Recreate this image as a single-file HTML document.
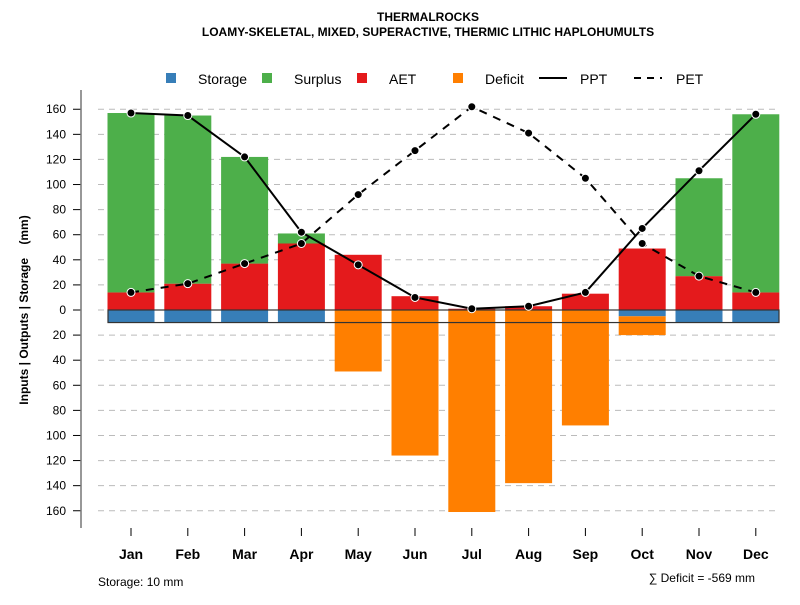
<!DOCTYPE html>
<html><head><meta charset="utf-8"><style>
body{margin:0;background:#fff;font-family:"Liberation Sans",sans-serif}
svg text{font-family:"Liberation Sans",sans-serif}
</style></head><body>
<svg id="c" width="800" height="600" xmlns="http://www.w3.org/2000/svg">
<text x="428" y="21" text-anchor="middle" font-size="12" font-weight="bold">THERMALROCKS</text>
<text x="428" y="36" text-anchor="middle" font-size="12" font-weight="bold">LOAMY-SKELETAL, MIXED, SUPERACTIVE, THERMIC LITHIC HAPLOHUMULTS</text>
<g font-size="14">
<rect x="166" y="73" width="10" height="10" fill="#377eb8"/><text x="198" y="84">Storage</text>
<rect x="262" y="73" width="10" height="10" fill="#4daf4a"/><text x="294" y="84">Surplus</text>
<rect x="357" y="73" width="10" height="10" fill="#e41a1c"/><text x="389" y="84">AET</text>
<rect x="453" y="73" width="10" height="10" fill="#ff7f00"/><text x="485" y="84">Deficit</text>
<line x1="539" y1="78" x2="567" y2="78" stroke="#000" stroke-width="2"/><text x="580" y="84">PPT</text>
<line x1="634" y1="78" x2="662" y2="78" stroke="#000" stroke-width="2" stroke-dasharray="7,6"/><text x="676" y="84">PET</text>
</g>
<text transform="translate(28,310) rotate(-90)" text-anchor="middle" font-size="12" font-weight="bold" style="white-space:pre">Inputs | Outputs | Storage    (mm)</text>
<text x="98" y="586" font-size="12">Storage: 10 mm</text>
<text x="755" y="582" text-anchor="end" font-size="12">∑ Deficit = -569 mm</text>
<g id="g"></g>
</svg>
<script>
const months=["Jan","Feb","Mar","Apr","May","Jun","Jul","Aug","Sep","Oct","Nov","Dec"];
const ppt=[157,155,122,62,36,10,1,3,14,65,111,156];
const pet=[14,21,37,53,92,127,162,141,105,53,27,14];
const aet=[14,21,37,53,44,11,1,3,13,49,27,14];
const surplus=[143,134,85,8,0,0,0,0,0,0,78,142];
const deficit=[0,0,0,0,49,116,161,138,92,15,0,0];
const storage=[10,10,10,10,0,0,0,0,0,5,10,10];
const ticks=[160,140,120,100,80,60,40,20,0,20,40,60,80,100,120,140,160];
const NS="http://www.w3.org/2000/svg";
const g=document.getElementById('g');
const y=v=>310-v*1.2547;
const x=i=>131+i*56.8;
const bw=47;
function mk(t,a){const e=document.createElementNS(NS,t);for(const k in a)e.setAttribute(k,a[k]);g.appendChild(e);return e;}
ticks.forEach((t,i)=>{const v=i<8?t:-t;const yy=y(v);
 const l=mk('line',{x1:98,x2:780,y1:yy,y2:yy,stroke:'#bbb','stroke-dasharray':'6,5'});
 
 
 const tk=mk('line',{x1:73,x2:81,y1:yy,y2:yy,stroke:'#000'});
 
 
 const tx=mk('text',{x:66,y:yy+4,'text-anchor':'end','font-size':12});tx.textContent=t;
 
 
});
const ax=mk('line',{x1:81,x2:81,y1:90,y2:528,stroke:'#777','stroke-width':1.5});


months.forEach((m,i)=>{const cx=x(i),l=cx-bw/2;
 const a=mk('rect',{x:l,y:y(aet[i]),width:bw,height:aet[i]*1.2547,fill:'#e41a1c'});
 
 
 const s=mk('rect',{x:l,y:y(aet[i]+surplus[i]),width:bw,height:surplus[i]*1.2547,fill:'#4daf4a'});
 
 
 const st=mk('rect',{x:l,y:y(0),width:bw,height:storage[i]*1.2547,fill:'#377eb8'});
 
 
 const d=mk('rect',{x:l,y:y(-storage[i]),width:bw,height:deficit[i]*1.2547,fill:'#ff7f00'});
 
 
 const tk=mk('line',{x1:cx,x2:cx,y1:528,y2:536,stroke:'#000'});
 
 
 const t=mk('text',{x:cx,y:559,'text-anchor':'middle','font-size':14,'font-weight':'bold'});t.textContent=m;
 
 
});
const box=mk('rect',{x:108,y:y(0),width:671,height:10*1.2547,fill:'none',stroke:'#333','stroke-width':1.2});


function line(arr,name,dash){
 const p=mk('polyline',{points:arr.map((v,i)=>x(i)+','+y(v)).join(' '),fill:'none',stroke:'#000','stroke-width':2,'stroke-dasharray':dash||'none'});
 
 
 arr.forEach((v,i)=>{const c=mk('circle',{cx:x(i),cy:y(v),r:4,fill:'#000',stroke:'#fff','stroke-width':1});
  
  });
}
line(pet,'pet','8,7');
line(ppt,'ppt');
</script>
</body></html>
